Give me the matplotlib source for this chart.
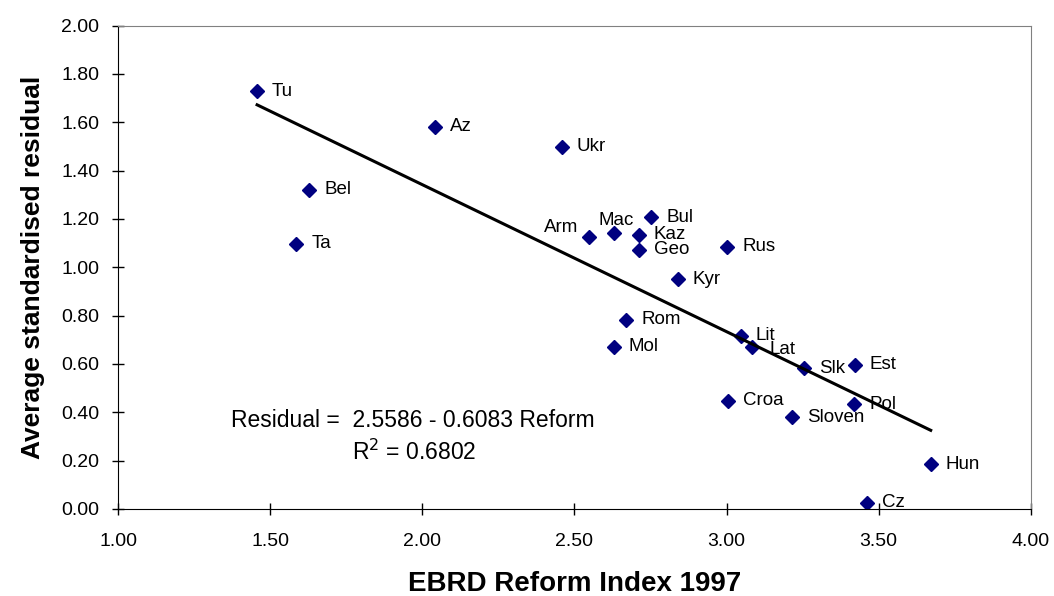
import numpy as np
import matplotlib.pyplot as plt

plt.rcParams['font.family'] = ['Liberation Sans', 'DejaVu Sans']

countries = ["Tu", "Bel", "Ta", "Az", "Ukr", "Arm", "Mac", "Bul", "Kaz", "Geo",
             "Rus", "Kyr", "Rom", "Mol", "Lit", "Lat", "Slk", "Est", "Croa",
             "Pol", "Sloven", "Hun", "Cz"]
reform = [1.457, 1.628, 1.586, 2.043, 2.459, 2.547, 2.629, 2.752, 2.711, 2.711,
          3.003, 2.839, 2.670, 2.629, 3.046, 3.084, 3.254, 3.421, 3.004,
          3.419, 3.216, 3.671, 3.463]
residual = [1.729, 1.321, 1.098, 1.582, 1.499, 1.127, 1.141, 1.207, 1.134, 1.072,
            1.085, 0.950, 0.782, 0.672, 0.717, 0.669, 0.582, 0.596, 0.448,
            0.434, 0.379, 0.185, 0.026]
intercept = 2.5586
slope = -0.6083
r2 = 0.6802

# label offsets in pixels (default: right of the marker)
offsets = {"Arm": (-10, 9, "right"), "Mac": (3, 13, "center"),
           "Lat": (17, -2, "left")}

fig = plt.figure(figsize=(10.54, 5.96), dpi=100)
ax = fig.add_axes([0.112, 0.146, 0.866, 0.811])

ax.plot(reform, residual, linestyle="none", marker="D", markersize=7,
        color="#000080")

xs = np.array([min(reform), max(reform)])
ax.plot(xs, intercept + slope * xs, color="black", linewidth=2.2)

for name, x, y in zip(countries, reform, residual):
    dx, dy, ha = offsets.get(name, (15, 0, "left"))
    ax.annotate(name, (x, y), xytext=(dx, dy), textcoords="offset pixels",
                ha=ha, va="center", fontsize=13.5)

ax.text(0.124, 0.184, f"Residual =  {intercept:.4f} - {-slope:.4f} Reform",
        transform=ax.transAxes, fontsize=16.5, va="center", ha="left")
ax.text(0.256, 0.118, f"R$^2$ = {r2:.4f}", transform=ax.transAxes,
        fontsize=16.5, va="center", ha="left")

ax.set_xlim(1.0, 4.0)
ax.set_ylim(0.0, 2.0)
ax.set_xticks(np.arange(1.0, 4.01, 0.5))
ax.set_yticks(np.arange(0.0, 2.01, 0.2))
ax.xaxis.set_major_formatter(plt.FormatStrFormatter("%.2f"))
ax.yaxis.set_major_formatter(plt.FormatStrFormatter("%.2f"))
ax.tick_params(direction="inout", length=9, width=1, labelsize=14)
ax.tick_params(axis="x", pad=13)
ax.tick_params(axis="y", pad=9)

for side in ["top", "right"]:
    ax.spines[side].set_color("#808080")
for side in ["left", "bottom"]:
    ax.spines[side].set_color("black")

ax.set_xlabel("EBRD Reform Index 1997", fontsize=20, fontweight="bold",
              labelpad=15)
ax.set_ylabel("Average standardised residual", fontsize=19, fontweight="bold",
              labelpad=12)

fig.savefig("out.png", dpi=100)
